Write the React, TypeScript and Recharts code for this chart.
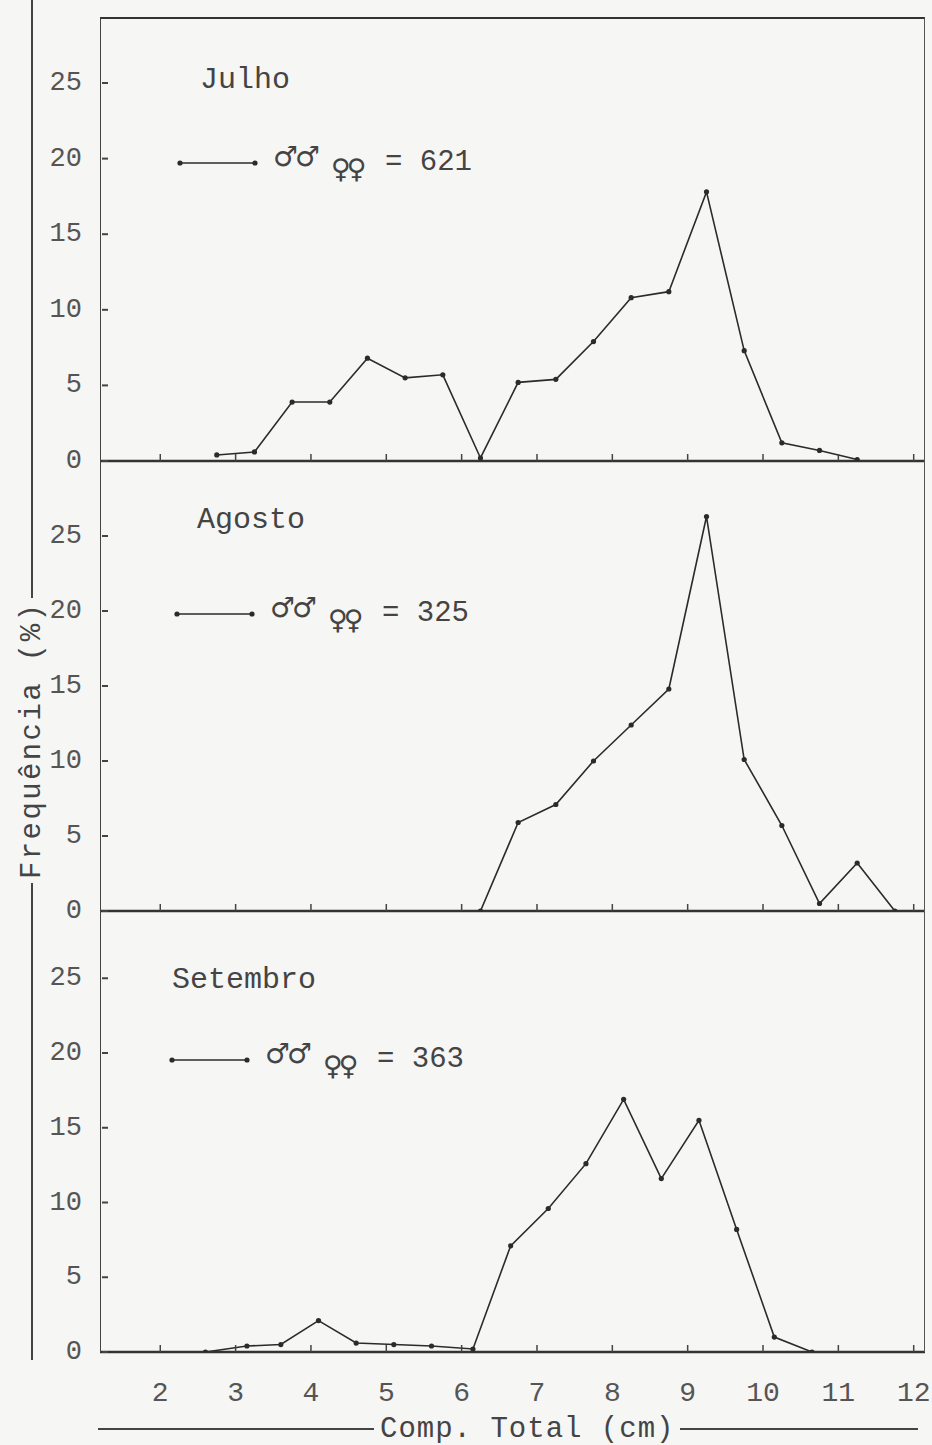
import React from 'react';
import { LineChart, Line, XAxis, YAxis } from 'recharts';

// comprimento total (cm), ponto médio das classes
const julhoLength = [2.75, 3.25, 3.75, 4.25, 4.75, 5.25, 5.75, 6.25, 6.75, 7.25, 7.75, 8.25, 8.75, 9.25, 9.75, 10.25, 10.75, 11.25];
const julhoFreq = [0.4, 0.6, 3.9, 3.9, 6.8, 5.5, 5.7, 0.2, 5.2, 5.4, 7.9, 10.8, 11.2, 17.8, 7.3, 1.2, 0.7, 0.1];

const agostoLength = [6.25, 6.75, 7.25, 7.75, 8.25, 8.75, 9.25, 9.75, 10.25, 10.75, 11.25, 11.75];
const agostoFreq = [0, 5.9, 7.1, 10.0, 12.4, 14.8, 26.3, 10.1, 5.7, 0.5, 3.2, 0];

const setembroLength = [2.6, 3.15, 3.6, 4.1, 4.6, 5.1, 5.6, 6.15, 6.65, 7.15, 7.65, 8.15, 8.65, 9.15, 9.65, 10.15, 10.65];
const setembroFreq = [0, 0.4, 0.5, 2.1, 0.6, 0.5, 0.4, 0.2, 7.1, 9.6, 12.6, 16.9, 11.6, 15.5, 8.2, 1.0, 0];

const yTicks = [0, 5, 10, 15, 20, 25];
const xTicks = [2, 3, 4, 5, 6, 7, 8, 9, 10, 11, 12];

const months = ['Julho', 'Agosto', 'Setembro'];
const totals = [621, 325, 363];

const MONO = '"Liberation Mono", "DejaVu Sans Mono", monospace';
const SYM = '"DejaVu Sans", sans-serif';
const INK = '#2b2b2b';
const GREY = '#555';

const toRows = (xs: number[], ys: number[]) => xs.map((x, i) => ({ x, y: ys[i] }));

function YTick(props: any) {
  const { x, y, payload } = props;
  return (
    <g>
      <text x={x} y={y} textAnchor="end" dominantBaseline="central" fontFamily={MONO} fontSize={27} fill={GREY}>
        {payload.value}
      </text>
      <line x1={x + 20} x2={x + 26} y1={y} y2={y} stroke="#444" strokeWidth={2} />
    </g>
  );
}

function XTick(props: any) {
  const { x, y, payload, showLabel } = props;
  return (
    <g>
      <line x1={x} x2={x} y1={y} y2={y - 7} stroke="#444" strokeWidth={1.5} />
      {showLabel && (
        <text x={x} y={y + 41} textAnchor="middle" dominantBaseline="central" fontFamily={MONO} fontSize={28} fill={GREY}>
          {payload.value}
        </text>
      )}
    </g>
  );
}

function Panel({ data, top, height, marginTop, marginBottom, yMax, bottom }: any) {
  return (
    <div style={{ position: 'absolute', left: 0, top, width: 932, height }}>
      <LineChart width={932} height={height} data={data} margin={{ top: marginTop, right: 7, bottom: marginBottom, left: 0 }}>
        <XAxis
          dataKey="x"
          type="number"
          domain={[1.2, 12.15]}
          ticks={xTicks}
          interval={0}
          allowDataOverflow
          height={bottom ? 60 : 1}
          tickSize={0}
          tickMargin={0}
          tickLine={false}
          axisLine={{ stroke: '#333', strokeWidth: 2.5 }}
          tick={<XTick showLabel={!!bottom} />}
        />
        <YAxis
          type="number"
          domain={[0, yMax]}
          ticks={yTicks}
          interval={0}
          width={100}
          tickSize={0}
          tickMargin={18}
          axisLine={false}
          tickLine={false}
          tick={<YTick />}
          allowDataOverflow
        />
        <Line
          type="linear"
          dataKey="y"
          stroke={INK}
          strokeWidth={1.6}
          dot={{ r: 2.6, fill: INK, stroke: 'none' }}
          isAnimationActive={false}
        />
      </LineChart>
    </div>
  );
}

function Title({ text, left, cy }: any) {
  return (
    <div style={{ position: 'absolute', left, top: cy - 18, height: 36, lineHeight: '36px', fontFamily: MONO, fontSize: 30, color: '#444' }}>
      {text}
    </div>
  );
}

function SexLegend({ left, cy, total }: any) {
  return (
    <div style={{ position: 'absolute', left, top: cy - 20, width: 340, height: 40, color: '#444' }}>
      <svg width={82} height={10} style={{ position: 'absolute', left: 0, top: 15 }}>
        <line x1={3} x2={78} y1={5} y2={5} stroke={INK} strokeWidth={1.6} />
        <circle cx={3} cy={5} r={2.6} fill={INK} />
        <circle cx={78} cy={5} r={2.6} fill={INK} />
      </svg>
      <span style={{ position: 'absolute', left: 96, top: -4, fontFamily: SYM, fontSize: 28, fontStyle: 'italic', lineHeight: '36px', letterSpacing: -3 }}>
        ♂♂
      </span>
      <span style={{ position: 'absolute', left: 154, top: 8, fontFamily: SYM, fontSize: 27, lineHeight: '36px', letterSpacing: -4 }}>
        ♀♀
      </span>
      <span style={{ position: 'absolute', left: 208, top: 2, fontFamily: MONO, fontSize: 29, lineHeight: '36px' }}>
        = {total}
      </span>
    </div>
  );
}

export default function App() {
  return (
    <div style={{ position: 'absolute', left: 0, top: 0, width: 932, height: 1445, background: '#f6f6f4', overflow: 'hidden' }}>
      <Panel data={toRows(julhoLength, julhoFreq)} top={0} height={482} marginTop={18} marginBottom={20} yMax={29.3} />
      <Panel data={toRows(agostoLength, agostoFreq)} top={461} height={471} marginTop={0} marginBottom={20} yMax={30} />
      <Panel data={toRows(setembroLength, setembroFreq)} top={911} height={501} marginTop={0} marginBottom={0} yMax={29.5} bottom />

      {/* moldura */}
      <div
        style={{
          position: 'absolute',
          left: 100,
          top: 17,
          width: 825,
          height: 1335,
          boxSizing: 'border-box',
          borderLeft: '1.8px solid #444',
          borderRight: '1.5px solid #555',
          borderTop: '2.5px solid #333',
          pointerEvents: 'none',
        }}
      />

      <Title text={months[0]} left={200} cy={80} />
      <SexLegend left={177} cy={163} total={totals[0]} />
      <Title text={months[1]} left={197} cy={520} />
      <SexLegend left={174} cy={614} total={totals[1]} />
      <Title text={months[2]} left={172} cy={980} />
      <SexLegend left={169} cy={1060} total={totals[2]} />

      {/* eixo y */}
      <div
        style={{
          position: 'absolute',
          left: 32 - 680,
          top: 680 - 16,
          width: 1360,
          height: 32,
          transform: 'rotate(-90deg)',
          display: 'flex',
          alignItems: 'center',
        }}
      >
        <div style={{ width: 477, height: 1.8, background: '#444' }} />
        <div style={{ padding: '0 4px', fontFamily: MONO, fontSize: 29, letterSpacing: 2.4, color: '#444', whiteSpace: 'nowrap' }}>
          Frequência (%)
        </div>
        <div style={{ flex: 1, height: 1.8, background: '#444' }} />
      </div>

      {/* eixo x */}
      <div style={{ position: 'absolute', left: 98, top: 1429 - 18, width: 820, height: 36, display: 'flex', alignItems: 'center' }}>
        <div style={{ width: 276, height: 2, background: '#444' }} />
        <div style={{ padding: '0 6px', fontFamily: MONO, fontSize: 29, letterSpacing: 1, color: '#444', whiteSpace: 'nowrap' }}>
          Comp. Total (cm)
        </div>
        <div style={{ flex: 1, height: 2, background: '#444' }} />
      </div>
    </div>
  );
}
